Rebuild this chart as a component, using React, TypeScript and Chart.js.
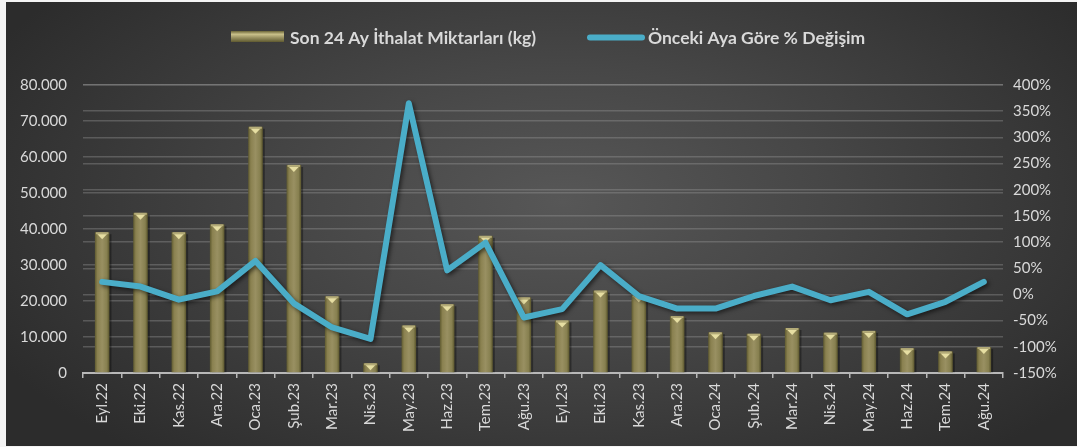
import React, { useEffect, useRef } from "react";
import { Chart, registerables } from "chart.js";

Chart.register(...registerables);

const categories = ["Eyl.22","Eki.22","Kas.22","Ara.22","Oca.23","Şub.23","Mar.23","Nis.23","May.23","Haz.23","Tem.23","Ağu.23","Eyl.23","Eki.23","Kas.23","Ara.23","Oca.24","Şub.24","Mar.24","Nis.24","May.24","Haz.24","Tem.24","Ağu.24"];
const importsKg = [39100,44500,39100,41300,68400,57800,21300,2700,13200,19100,38100,21000,14600,22900,21600,15800,11300,10900,12500,11200,11700,6900,6000,7200];
const changePct = [24,15,-10,6,64,-17,-63,-85,365,46,99,-44,-28,56,-3,-27,-27,-3,15,-11,5,-38,-14,24];
const barLabel = "Son 24 Ay İthalat Miktarları (kg)";
const lineLabel = "Önceki Aya Göre % Değişim";

const FONT = "Lato, 'Liberation Sans', sans-serif";
const TEXT = "#d9d9d9";
const LINE_COLOR = "#4aadc8";

function fmtThousands(v: number) {
  return String(Math.round(v)).replace(/\B(?=(\d{3})+(?!\d))/g, ".");
}

function drawBar(ctx: CanvasRenderingContext2D, x: number, top: number, bottom: number, w: number) {
  const l = x - w / 2;
  const h = bottom - top;
  if (h <= 0) return;
  ctx.save();
  ctx.fillStyle = "rgba(0,0,0,0.35)";
  ctx.fillRect(l + 2, top + 2, w, h - 2);
  const g = ctx.createLinearGradient(l, 0, l + w, 0);
  g.addColorStop(0, "#5f5a30");
  g.addColorStop(0.18, "#8a8150");
  g.addColorStop(0.5, "#999062");
  g.addColorStop(0.82, "#878050");
  g.addColorStop(1, "#5a552c");
  ctx.fillStyle = g;
  ctx.fillRect(l, top, w, h);
  ctx.fillStyle = "#b3ab78";
  ctx.fillRect(l + 1, top, w - 2, 2);
  ctx.beginPath();
  ctx.moveTo(l + 2.5, top + 2);
  ctx.lineTo(l + w - 2.5, top + 2);
  ctx.lineTo(x, top + 7);
  ctx.closePath();
  ctx.fillStyle = "#e6dea2";
  ctx.fill();
  ctx.restore();
}

const customPlugin = {
  id: "custom",
  beforeDatasetDraw(chart: any, args: any) {
    if (args.index !== 1) return;
    const ctx = chart.ctx;
    ctx.save();
    ctx.shadowColor = "rgba(0,0,0,0.55)";
    ctx.shadowBlur = 4;
    ctx.shadowOffsetX = 2;
    ctx.shadowOffsetY = 2;
  },
  afterDatasetDraw(chart: any, args: any) {
    const ctx = chart.ctx;
    if (args.index === 1) {
      ctx.restore();
      return;
    }
    const meta = chart.getDatasetMeta(0);
    meta.data.forEach((el: any) => {
      drawBar(ctx, el.x, el.y, el.base, el.width);
    });
  },
  afterDraw(chart: any) {
    const ctx = chart.ctx;
    ctx.save();
    ctx.font = `bold 17.5px ${FONT}`;
    ctx.textBaseline = "middle";
    const sx = 231, sy = 31, sw = 53, sh = 11;
    const g = ctx.createLinearGradient(0, sy, 0, sy + sh);
    g.addColorStop(0, "#6a6436");
    g.addColorStop(0.3, "#c9c08a");
    g.addColorStop(0.6, "#9a9262");
    g.addColorStop(1, "#5f5a30");
    ctx.fillStyle = g;
    ctx.fillRect(sx, sy, sw, sh);
    ctx.fillStyle = TEXT;
    ctx.textAlign = "left";
    ctx.fillText(barLabel, 290, 38);
    ctx.strokeStyle = LINE_COLOR;
    ctx.lineWidth = 6;
    ctx.lineCap = "round";
    ctx.beginPath();
    ctx.moveTo(590, 37.5);
    ctx.lineTo(642, 37.5);
    ctx.stroke();
    ctx.fillText(lineLabel, 648, 38);
    ctx.restore();
  },
};

export default function App() {
  const ref = useRef<HTMLCanvasElement>(null);
  useEffect(() => {
    if (!ref.current) return;
    const chart = new Chart(ref.current, {
      type: "bar",
      data: {
        labels: categories,
        datasets: [
          {
            type: "bar",
            label: barLabel,
            data: importsKg,
            yAxisID: "y",
            backgroundColor: "rgba(0,0,0,0)",
            borderWidth: 0,
            barPercentage: 0.38,
            categoryPercentage: 1,
            order: 2,
          } as any,
          {
            type: "line",
            label: lineLabel,
            data: changePct,
            yAxisID: "y1",
            borderColor: LINE_COLOR,
            borderWidth: 6,
            pointRadius: 0,
            tension: 0,
            borderCapStyle: "round",
            borderJoinStyle: "round",
            order: 1,
          } as any,
        ],
      },
      options: {
        animation: false,
        responsive: false,
        maintainAspectRatio: false,
        layout: { padding: { top: 85, left: 0, right: 0, bottom: 0 } },
        plugins: {
          legend: { display: false },
          tooltip: { enabled: false },
        },
        scales: {
          x: {
            offset: true,
            grid: {
              display: true,
              drawOnChartArea: false,
              drawTicks: true,
              tickLength: 5,
              color: "#b8b8b8",
              lineWidth: 1.5,
              offset: true,
            },
            border: { display: true, color: "#b8b8b8", width: 2 },
            ticks: {
              color: TEXT,
              font: { family: FONT, size: 15 },
              maxRotation: 90,
              minRotation: 90,
              autoSkip: false,
              padding: 5,
            },
            afterFit(scale: any) {
              scale.height = 74;
            },
          },
          y: {
            position: "left",
            min: 0,
            max: 80000,
            ticks: {
              stepSize: 10000,
              color: TEXT,
              font: { family: FONT, size: 15 },
              padding: 16,
              callback: (v: any) => fmtThousands(Number(v)),
            },
            grid: {
              color: "rgba(160,160,160,0.35)",
              lineWidth: 1.5,
              drawTicks: false,
            },
            border: { display: false },
            afterFit(scale: any) {
              scale.width = 83;
            },
          },
          y1: {
            position: "right",
            min: -150,
            max: 400,
            ticks: {
              stepSize: 50,
              color: TEXT,
              font: { family: FONT, size: 15 },
              padding: 10,
              callback: (v: any) => `${v}%`,
            },
            grid: {
              color: "rgba(160,160,160,0.35)",
              lineWidth: 1.5,
              drawTicks: false,
            },
            border: { display: false },
            afterFit(scale: any) {
              scale.width = 74;
            },
          },
        },
      },
      plugins: [customPlugin],
    });
    return () => chart.destroy();
  }, []);

  return (
    <div style={{ position: "absolute", left: 0, top: 0, width: 1077, height: 447, background: "#f4f4f4", overflow: "hidden" }}>
      <div
        style={{
          position: "absolute",
          left: 6,
          top: 2,
          width: 1071,
          height: 444,
          background: "radial-gradient(ellipse 60% 75% at 52% 45%, #575757 0%, #474747 40%, #2c2c2c 100%)",
        }}
      />
      <canvas ref={ref} width={1077} height={447} style={{ position: "absolute", left: 0, top: 0, width: 1077, height: 447 }} />
    </div>
  );
}
